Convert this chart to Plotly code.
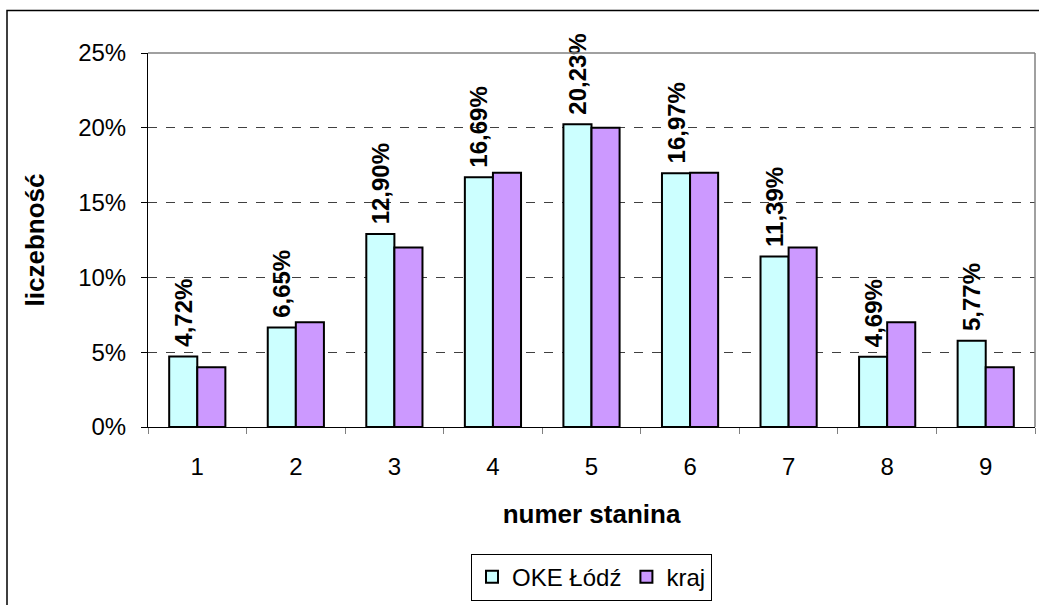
import plotly.graph_objects as go

# Chart data
stanines = ["1", "2", "3", "4", "5", "6", "7", "8", "9"]
oke_lodz = [4.72, 6.65, 12.90, 16.69, 20.23, 16.97, 11.39, 4.69, 5.77]
kraj = [4, 7, 12, 17, 20, 17, 12, 7, 4]

FONT = "Liberation Sans, Arial, sans-serif"

# Plot area geometry (pixels)
W, H = 1039, 605
L, R, T, B = 148, 4, 53, 174
pw, ph = W - L - R, H - T - B

fig = go.Figure()

fig.add_trace(go.Bar(
    x=stanines,
    y=[v / 100 for v in oke_lodz],
    name="OKE Łódź",
    marker=dict(color="#CCFFFF", line=dict(color="black", width=2)),
    # leading nbsp gives a little extra room between bar and label
    text=["\u00a0" + f"{v:.2f}%".replace(".", ",") for v in oke_lodz],
    textposition="outside",
    textangle=-90,
    textfont=dict(family=FONT, size=24, color="black", weight="bold"),
    constraintext="none",
    cliponaxis=False,
))

fig.add_trace(go.Bar(
    x=stanines,
    y=[v / 100 for v in kraj],
    name="kraj",
    marker=dict(color="#CC99FF", line=dict(color="black", width=2)),
))

fig.update_layout(
    width=W,
    height=H,
    margin=dict(l=L, r=R, t=T, b=B),
    paper_bgcolor="white",
    plot_bgcolor="white",
    font=dict(family=FONT, size=24, color="black"),
    barmode="group",
    bargap=0.43,
    bargroupgap=0,
    showlegend=True,
    legend=dict(
        orientation="h",
        x=0.5,
        xanchor="center",
        y=(T + ph - 559) / ph,
        yanchor="top",
        bordercolor="black",
        borderwidth=1,
        bgcolor="white",
        font=dict(family=FONT, size=24),
        itemwidth=30,
    ),
    xaxis=dict(
        type="category",
        tickson="boundaries",
        ticks="outside",
        ticklen=6,
        tickcolor="#808080",
        showline=True,
        linecolor="black",
        linewidth=1,
        showgrid=False,
        ticklabelstandoff=18,
        title=dict(text="<b>numer stanina</b>", standoff=26, font=dict(size=26)),
    ),
    yaxis=dict(
        range=[0, 0.25],
        dtick=0.05,
        tickformat=".0%",
        ticks="outside",
        ticklen=6,
        tickcolor="black",
        showline=True,
        linecolor="black",
        linewidth=1,
        showgrid=True,
        gridcolor="#404040",
        griddash="dash",
        gridwidth=1,
        zeroline=False,
        ticklabelstandoff=10,
        title=dict(text="<b>liczebność</b>", standoff=26, font=dict(size=26)),
    ),
    shapes=[
        # plot area border on top and right (gray)
        dict(type="line", xref="paper", yref="paper", x0=0, x1=1, y0=1, y1=1,
             line=dict(color="#808080", width=1.5)),
        dict(type="line", xref="paper", yref="paper", x0=1, x1=1, y0=0, y1=1,
             line=dict(color="#808080", width=1.5)),
        # outer chart frame
        dict(type="rect", xref="paper", yref="paper",
             x0=(7 - L) / pw, x1=1.05, y0=-0.6, y1=(T + ph - 10) / ph,
             line=dict(color="black", width=1.5), layer="below"),
    ],
)

fig.write_html(
    "out.html",
    config={"displayModeBar": False},
    post_script="document.body.style.margin='0';document.body.style.padding='0';",
)
